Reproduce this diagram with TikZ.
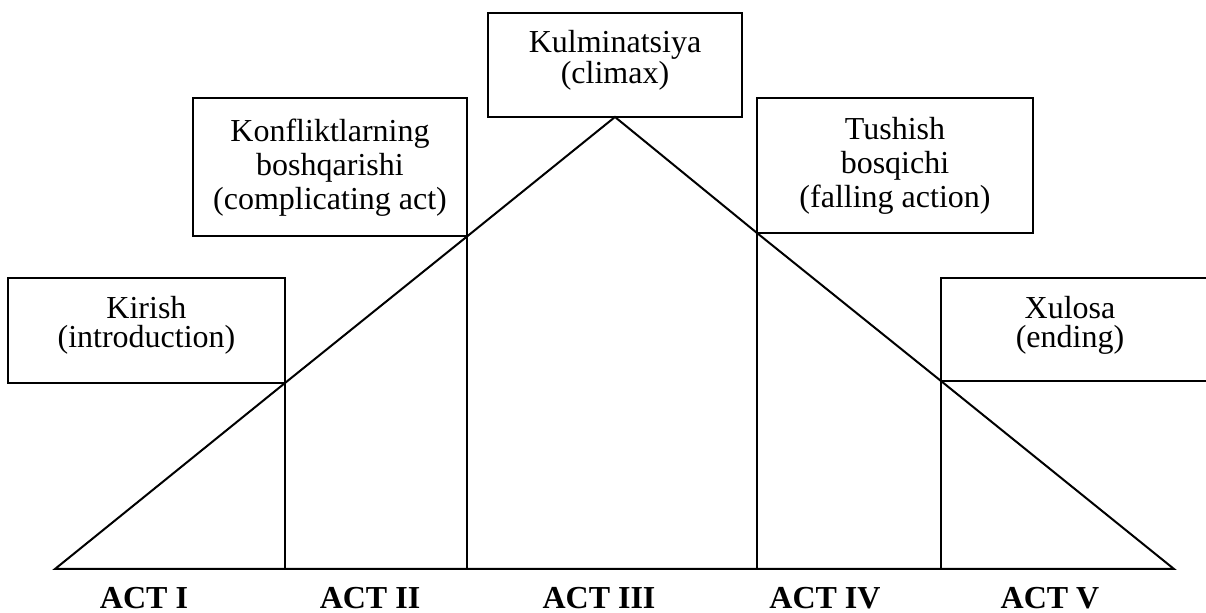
\documentclass[tikz,border=0pt]{standalone}
\usepackage{fontspec}
\setmainfont{Liberation Serif}
\usepackage{tikz}
\usetikzlibrary{calc,positioning}
\tikzset{%
  stage/.style={rectangle,draw,line width=1pt,inner sep=0pt,outer sep=0pt},
  txt/.style={align=center,inner sep=0pt,font=\fontsize{16}{14.5}\selectfont},
  short/.style={yshift=2.5pt},
  tall/.style={font=\fontsize{16}{17}\selectfont},
  act/.style={anchor=base,font=\fontsize{16}{18}\selectfont\bfseries},
  plot/.style={line width=1pt},
}

\begin{document}
\begin{tikzpicture}[x=0.5pt,y=-0.5pt]
    \useasboundingbox (0,0) rectangle (1206,613);

    \node[stage,minimum width=138.5pt,minimum height=52.5pt,
      label={[txt,short]center:{Kirish\\(introduction)}}] (kirish) at (146.5,330.5) {};
    \node[stage,minimum width=137pt,minimum height=69.25pt,
      label={[txt,tall]center:{Konfliktlarning\\boshqarishi\\(complicating act)}}] (konflikt) at (330,167.25) {};
    \node[stage,minimum width=127pt,minimum height=52pt,
      label={[txt,short]center:{Kulminatsiya\\(climax)}}] (kulm) at (615,65) {};
    \node[stage,minimum width=138pt,minimum height=67.5pt,
      label={[txt,tall]center:{Tushish\\bosqichi\\(falling action)}}] (tushish) at (895,165.5) {};
    \node[stage,minimum width=139pt,minimum height=51.5pt,anchor=south west] (xulosa) at (941,381) {};
    \node[txt,short] (xulosatxt) at (1070,330.5) {Xulosa\\(ending)};

    \coordinate (left) at (55,569);
    \coordinate (right) at (1174,569);

    % the plot line
    \draw[plot] (left) -- (kirish.south east) -- (konflikt.south east) -- (kulm.south)
      -- (tushish.south west) -- (xulosa.south west) -- (right) -- cycle;

    \foreach \corner in {kirish.south east,konflikt.south east,tushish.south west,xulosa.south west}
      \draw[plot] (\corner) -- (\corner |- left);

    \foreach \name/\x/\txt in {a1/144/ACT I,a2/370/ACT II,a3/599/ACT III,a4/825/ACT IV,a5/1050/ACT V}
      \node[act] (\name) at (\x,609) {\txt};
\end{tikzpicture}
\end{document}
